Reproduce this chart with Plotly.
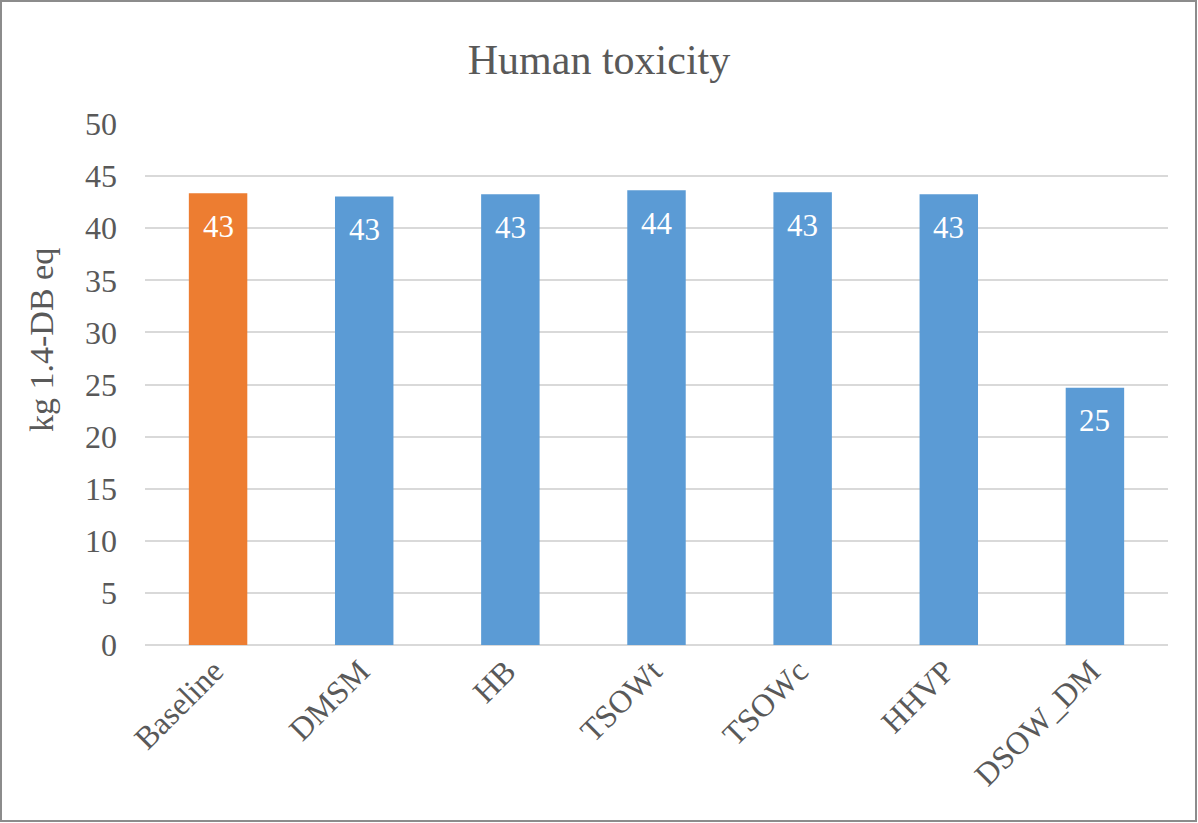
import plotly.graph_objects as go

# Human toxicity per scenario (kg 1.4-DB eq)
categories = ["Baseline", "DMSM", "HB", "TSOWt", "TSOWc", "HHVP", "DSOW_DM"]
values = [43.35, 43.05, 43.25, 43.65, 43.45, 43.25, 24.7]
labels = [f"{v:.0f}" for v in values]
bar_colors = ["#ED7D31"] + ["#5B9BD5"] * (len(categories) - 1)

y_ticks = [0, 5, 10, 15, 20, 25, 30, 35, 40, 45, 50]
y_title = "kg 1.4-DB eq"

W, H = 1198, 823
L, R, T, B = 145, 30, 124, 178
pw, ph = W - L - R, H - T - B

FONT = "Liberation Serif, Times New Roman, serif"
GREY = "#595959"

fig = go.Figure(
    go.Bar(
        x=categories,
        y=values,
        marker=dict(color=bar_colors, line=dict(width=0)),
        hoverinfo="x+y",
    )
)

# value labels sit just inside the top of each bar
for cat, val, lab in zip(categories, values, labels):
    fig.add_annotation(
        x=cat,
        y=val,
        text=lab,
        showarrow=False,
        xanchor="center",
        yanchor="middle",
        yshift=-33,
        font=dict(family=FONT, size=31, color="white"),
    )

# vertical axis title, placed a little above the middle of the axis
fig.add_annotation(
    xref="paper",
    yref="paper",
    x=(41 - L) / pw,
    y=1 - (340 - T) / ph,
    text=y_title,
    textangle=-90,
    showarrow=False,
    xanchor="center",
    yanchor="middle",
    font=dict(family=FONT, size=34, color=GREY),
)

fig.update_layout(
    width=W,
    height=H,
    margin=dict(l=L, r=R, t=T, b=B),
    paper_bgcolor="white",
    plot_bgcolor="white",
    bargap=0.6,
    showlegend=False,
    title=dict(
        text="Human toxicity",
        x=0.5,
        xanchor="center",
        y=1 - 59 / H,
        yanchor="middle",
        font=dict(family=FONT, size=42, color=GREY),
    ),
    font=dict(family=FONT, color=GREY),
    xaxis=dict(
        tickangle=-45,
        tickfont=dict(family=FONT, size=32, color=GREY),
        ticklabelshift=-4,
        showgrid=False,
        showline=False,
        ticks="",
        zeroline=False,
    ),
    yaxis=dict(
        range=[0, 50],
        tickvals=y_ticks,
        tickfont=dict(family=FONT, size=32, color=GREY),
        ticklabelstandoff=27,
        showgrid=True,
        gridcolor="#D9D9D9",
        gridwidth=2,
        zeroline=True,
        zerolinecolor="#D9D9D9",
        zerolinewidth=2,
        showline=False,
        ticks="",
    ),
    shapes=[
        dict(
            type="rect",
            xref="paper",
            yref="paper",
            x0=(1 - L) / pw,
            x1=(W - 2 - L) / pw,
            y0=1 - (H - 2 - T) / ph,
            y1=1 + (T - 1) / ph,
            line=dict(color="#8C8C8C", width=2),
            fillcolor="rgba(0,0,0,0)",
            layer="above",
        )
    ],
)

fig.write_html("out.html")
